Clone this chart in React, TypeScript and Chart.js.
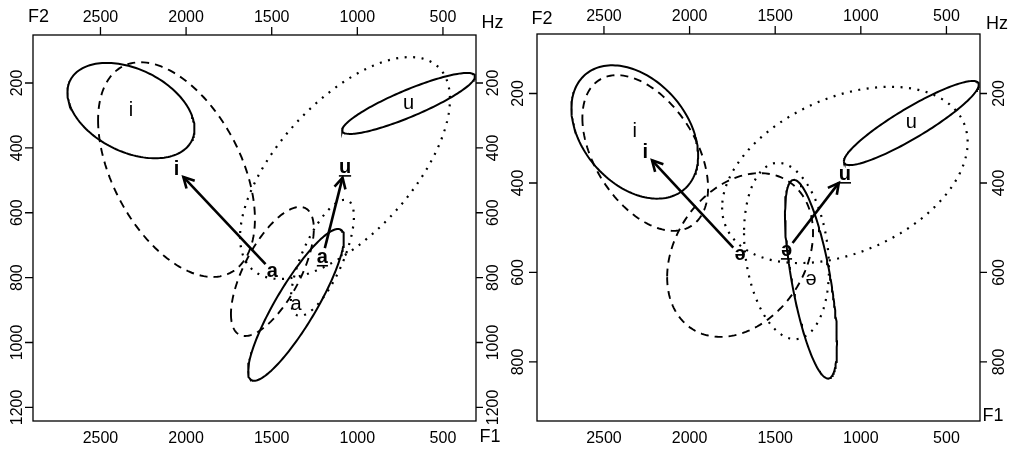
import React, { useEffect, useRef } from "react";
import { Chart, registerables } from "chart.js";
Chart.register(...registerables);

// ---- axis ticks ----
const F2_TICKS = [2500, 2000, 1500, 1000, 500];
const F1_TICKS_LEFT = [200, 400, 600, 800, 1000, 1200];
const F1_TICKS_RIGHT = [200, 400, 600, 800];

// ---- left panel groups: mean F2/F1, half-range (F2, F1), correlation ----
const L_LABEL = ["i", "u", "a", "i", "a", "a", "u"];
const L_STYLE = ["solid", "solid", "solid", "dashed", "dashed", "dotted", "dotted"];
const L_F2 = [2322, 701, 1358, 2056, 1496, 1204, 1072];
const L_F1 = [285, 263, 884, 467, 781, 739, 462];
const L_HALF_F2 = [371, 388, 280, 458, 242, 184, 613];
const L_HALF_F1 = [147, 94, 234, 331, 199, 179, 342];
const L_CORR = [-0.38, 0.88, 0.875, -0.46, 0.66, 0.71, 0.62];
const L_ARROW_FROM = [4, 5];
const L_ARROW_TO = [3, 6];

// ---- right panel groups ----
const R_LABEL = ["i", "u", "ə", "i", "ə", "ə", "u"];
const R_STYLE = ["solid", "solid", "solid", "dashed", "dashed", "dotted", "dotted"];
const R_F2 = [2320, 705, 1291, 2259, 1705, 1434, 1093];
const R_F1 = [286, 266, 615, 333, 561, 552, 382];
const R_HALF_F2 = [370, 394, 152, 367, 426, 248, 717];
const R_HALF_F1 = [149, 94, 222, 174, 183, 197, 197];
const R_CORR = [-0.354, 0.91, -0.654, -0.45, 0.27, -0.2, 0.37];
const R_ARROW_FROM = [4, 5];
const R_ARROW_TO = [3, 6];

const FONT = '"Liberation Sans", Arial, "DejaVu Sans", sans-serif';

function ellipsePoints(c2: number, c1: number, h2: number, h1: number, r: number) {
  const pts: { x: number; y: number }[] = [];
  const q = Math.sqrt(1 - r * r);
  const N = 160;
  for (let k = 0; k <= N; k++) {
    const t = (k / N) * Math.PI * 2;
    pts.push({ x: c2 + h2 * Math.cos(t), y: c1 + h1 * (r * Math.cos(t) + q * Math.sin(t)) });
  }
  return pts;
}

type Panel = {
  labels: string[];
  styles: string[];
  f2: number[];
  f1: number[];
  h2: number[];
  h1: number[];
  corr: number[];
  from: number[];
  to: number[];
  yTicks: number[];
  xMin: number;
  xMax: number;
  yMin: number;
  yMax: number;
  padding: { left: number; right: number; top: number; bottom: number };
  leftLabelOff: number;
  rightLabelOff: number;
  f2Pos: [number, number];
  hzPos: [number, number];
  f1Pos: [number, number];
};

function buildChart(canvas: HTMLCanvasElement, p: Panel) {
  const datasets = p.labels.map((_, i) => {
    const st = p.styles[i];
    return {
      data: ellipsePoints(p.f2[i], p.f1[i], p.h2[i], p.h1[i], p.corr[i]),
      showLine: true,
      pointRadius: 0,
      borderColor: "#000",
      borderWidth: st === "solid" ? 2 : st === "dashed" ? 1.9 : 2.2,
      borderDash: st === "solid" ? [] : st === "dashed" ? [8, 6] : [2, 6.5],
      borderCapStyle: "butt" as const,
      tension: 0,
      fill: false,
    };
  });

  const axesPlugin = {
    id: "customAxes",
    afterDraw(chart: any) {
      const { ctx, chartArea: a, scales } = chart;
      const xs = scales.x;
      const ys = scales.y;
      ctx.save();
      ctx.strokeStyle = "#000";
      ctx.lineWidth = 1.3;
      ctx.strokeRect(a.left, a.top, a.right - a.left, a.bottom - a.top);
      ctx.fillStyle = "#000";
      ctx.font = "16px " + FONT;
      ctx.textAlign = "center";
      ctx.textBaseline = "middle";
      F2_TICKS.forEach((v) => {
        const x = xs.getPixelForValue(v);
        ctx.beginPath();
        ctx.moveTo(x, a.top);
        ctx.lineTo(x, a.top - 8);
        ctx.stroke();
        ctx.fillText(String(v), x, a.top - 17);
        ctx.fillText(String(v), x, a.bottom + 18);
      });
      p.yTicks.forEach((v) => {
        const y = ys.getPixelForValue(v);
        ctx.beginPath();
        ctx.moveTo(a.left - 8, y);
        ctx.lineTo(a.left, y);
        ctx.moveTo(a.right, y);
        ctx.lineTo(a.right + 7, y);
        ctx.stroke();
        [a.left - p.leftLabelOff, a.right + p.rightLabelOff].forEach((x) => {
          ctx.save();
          ctx.translate(x, y);
          ctx.rotate(-Math.PI / 2);
          ctx.fillText(String(v), 0, 0);
          ctx.restore();
        });
      });
      ctx.font = "18px " + FONT;
      ctx.fillText("F2", p.f2Pos[0], p.f2Pos[1]);
      ctx.fillText("Hz", p.hzPos[0], p.hzPos[1]);
      ctx.fillText("F1", p.f1Pos[0], p.f1Pos[1]);
      ctx.restore();
    },
  };

  const marksPlugin = {
    id: "marks",
    afterDatasetsDraw(chart: any) {
      const { ctx, scales } = chart;
      const xs = scales.x;
      const ys = scales.y;
      ctx.save();
      ctx.strokeStyle = "#000";
      ctx.fillStyle = "#000";
      // arrows between group means
      p.from.forEach((fi, k) => {
        const ti = p.to[k];
        const x0 = xs.getPixelForValue(p.f2[fi]);
        const y0 = ys.getPixelForValue(p.f1[fi]);
        const x1 = xs.getPixelForValue(p.f2[ti]);
        const y1 = ys.getPixelForValue(p.f1[ti]);
        const d = Math.hypot(x1 - x0, y1 - y0);
        const ux = (x1 - x0) / d;
        const uy = (y1 - y0) / d;
        const sx = x0 + ux * 10;
        const sy = y0 + uy * 10;
        const ex = x1 - ux * 10;
        const ey = y1 - uy * 10;
        ctx.lineWidth = 2.6;
        ctx.lineCap = "butt";
        ctx.beginPath();
        ctx.moveTo(sx, sy);
        ctx.lineTo(ex, ey);
        ctx.stroke();
        const ang = Math.atan2(uy, ux);
        const L = 12;
        const w = (28 * Math.PI) / 180;
        ctx.beginPath();
        ctx.moveTo(ex - L * Math.cos(ang - w), ey - L * Math.sin(ang - w));
        ctx.lineTo(ex, ey);
        ctx.lineTo(ex - L * Math.cos(ang + w), ey - L * Math.sin(ang + w));
        ctx.stroke();
      });
      // group labels at means
      ctx.textAlign = "center";
      ctx.textBaseline = "alphabetic";
      p.labels.forEach((lab, i) => {
        const st = p.styles[i];
        const size = 20;
        ctx.font = (st === "solid" ? "" : "bold ") + size + "px " + FONT;
        const x = xs.getPixelForValue(p.f2[i]);
        const y = ys.getPixelForValue(p.f1[i]);
        const base = y + size * 0.27;
        ctx.fillText(lab, x, base);
        if (st === "dotted") {
          const w = ctx.measureText(lab).width;
          ctx.lineWidth = 1.6;
          ctx.beginPath();
          ctx.moveTo(x - w / 2, base + 2.5);
          ctx.lineTo(x + w / 2, base + 2.5);
          ctx.stroke();
        }
      });
      ctx.restore();
    },
  };

  return new Chart(canvas, {
    type: "scatter",
    data: { datasets: datasets as any },
    options: {
      animation: false,
      responsive: false,
      devicePixelRatio: 1,
      layout: { padding: p.padding },
      plugins: { legend: { display: false }, tooltip: { enabled: false } },
      events: [],
      scales: {
        x: { type: "linear", reverse: true, min: p.xMin, max: p.xMax, display: false },
        y: { type: "linear", reverse: true, min: p.yMin, max: p.yMax, display: false },
      },
    },
    plugins: [marksPlugin, axesPlugin],
  } as any);
}

export default function App() {
  const leftRef = useRef<HTMLCanvasElement>(null);
  const rightRef = useRef<HTMLCanvasElement>(null);

  useEffect(() => {
    const left = buildChart(leftRef.current!, {
      labels: L_LABEL,
      styles: L_STYLE,
      f2: L_F2,
      f1: L_F1,
      h2: L_HALF_F2,
      h1: L_HALF_F1,
      corr: L_CORR,
      from: L_ARROW_FROM,
      to: L_ARROW_TO,
      yTicks: F1_TICKS_LEFT,
      xMin: 307,
      xMax: 2894,
      yMin: 52,
      yMax: 1242,
      padding: { left: 33, right: 30, top: 35, bottom: 31 },
      leftLabelOff: 15.5,
      rightLabelOff: 18,
      f2Pos: [38.5, 17.5],
      hzPos: [492.5, 23.5],
      f1Pos: [490, 437],
    });
    const right = buildChart(rightRef.current!, {
      labels: R_LABEL,
      styles: R_STYLE,
      f2: R_F2,
      f1: R_F1,
      h2: R_HALF_F2,
      h1: R_HALF_F1,
      corr: R_CORR,
      from: R_ARROW_FROM,
      to: R_ARROW_TO,
      yTicks: F1_TICKS_RIGHT,
      xMin: 304,
      xMax: 2891,
      yMin: 67,
      yMax: 932,
      padding: { left: 31, right: 33, top: 34, bottom: 31 },
      leftLabelOff: 18,
      rightLabelOff: 19.5,
      f2Pos: [36, 19.5],
      hzPos: [491, 24.5],
      f1Pos: [487, 416],
    });
    return () => {
      left.destroy();
      right.destroy();
    };
  }, []);

  return (
    <div style={{ position: "fixed", left: 0, top: 0, width: 1013, height: 452, background: "#fff" }}>
      <canvas ref={leftRef} width={506} height={452} style={{ position: "absolute", left: 0, top: 0 }} />
      <canvas ref={rightRef} width={507} height={452} style={{ position: "absolute", left: 506, top: 0 }} />
    </div>
  );
}
